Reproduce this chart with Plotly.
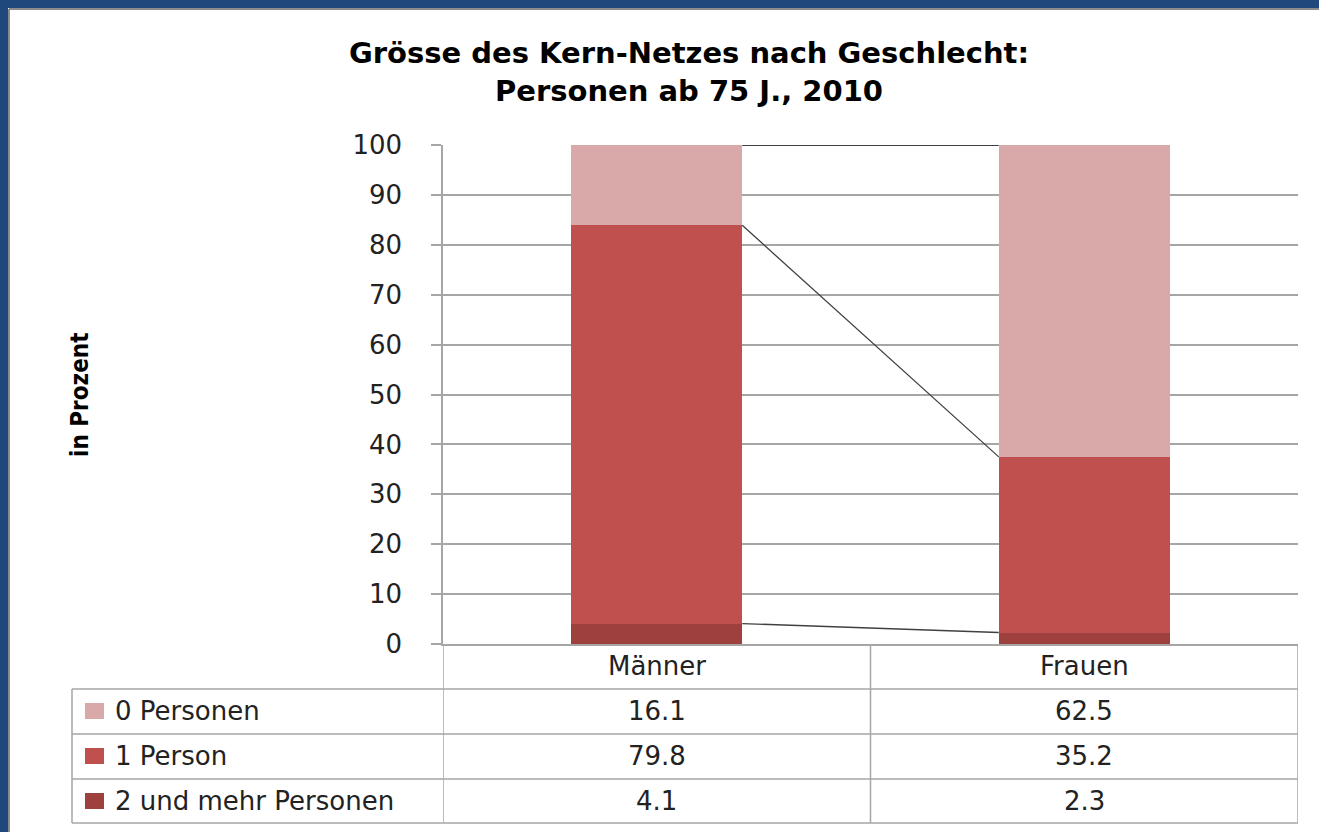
import plotly.graph_objects as go

# ---- data ----
categories = ["Männer", "Frauen"]
series_names = ["0 Personen", "1 Person", "2 und mehr Personen"]
vals_0 = [16.1, 62.5]
vals_1 = [79.8, 35.2]
vals_2 = [4.1, 2.3]
y_ticks = [0, 10, 20, 30, 40, 50, 60, 70, 80, 90, 100]

title_lines = ["Grösse des Kern-Netzes nach Geschlecht:", "Personen ab 75 J., 2010"]
y_title = "in Prozent"

colors = {"0 Personen": "#D9A9A9", "1 Person": "#C0504D", "2 und mehr Personen": "#9E413E"}

# ---- geometry (pixels) ----
W, H = 1319, 832
L, R, T, B = 443, 1298, 145, 644
BAR_W = 0.4
GRID = "#A6A6A6"
BLUE = "#1F497D"
FONT = "DejaVu Sans"
TXT = 26


def px(x):
    return (x - L) / (R - L)


def py(y):
    return (B - y) / (B - T)


xs = list(range(len(categories)))
series_vals = {"0 Personen": vals_0, "1 Person": vals_1, "2 und mehr Personen": vals_2}
stack_order = ["2 und mehr Personen", "1 Person", "0 Personen"]

fig = go.Figure()
for name in stack_order:
    fig.add_trace(go.Bar(
        x=xs, y=series_vals[name], name=name, width=BAR_W,
        marker=dict(color=colors[name], line=dict(width=0)),
        showlegend=False, hoverinfo="skip",
    ))

# series lines connecting tops of each stacked segment
cum = [0.0] * len(categories)
for name in stack_order:
    cum = [c + v for c, v in zip(cum, series_vals[name])]
    fig.add_trace(go.Scatter(
        x=[xs[0] + BAR_W / 2, xs[1] - BAR_W / 2], y=[cum[0], cum[1]],
        mode="lines", line=dict(color="#000000" if name == "0 Personen" else "#404040", width=1.3),
        showlegend=False, hoverinfo="skip",
    ))

shapes = []
# frame
shapes.append(dict(type="rect", xref="paper", yref="paper", x0=px(0), x1=px(W + 5), y0=py(0), y1=py(8),
                   fillcolor=BLUE, line=dict(width=0), layer="above"))
shapes.append(dict(type="rect", xref="paper", yref="paper", x0=px(0), x1=px(8), y0=py(0), y1=py(H + 5),
                   fillcolor=BLUE, line=dict(width=0), layer="above"))
shapes.append(dict(type="line", xref="paper", yref="paper", x0=px(9), x1=px(W + 5), y0=py(9), y1=py(9),
                   line=dict(color="#8C8C8C", width=2)))
shapes.append(dict(type="line", xref="paper", yref="paper", x0=px(9), x1=px(9), y0=py(9), y1=py(H + 5),
                   line=dict(color="#8C8C8C", width=2)))

# table
row_y = [644, 689, 734, 779, 823]
TL = 72
for yy in row_y[1:]:
    shapes.append(dict(type="line", xref="paper", yref="paper", x0=px(TL), x1=px(R), y0=py(yy), y1=py(yy),
                       line=dict(color=GRID, width=1.5)))
shapes.append(dict(type="line", xref="paper", yref="paper", x0=px(TL), x1=px(TL), y0=py(689), y1=py(823),
                   line=dict(color=GRID, width=1.5)))
for xv in [-0.5, 0.5, 1.5]:
    shapes.append(dict(type="line", xref="x", yref="paper", x0=xv, x1=xv, y0=py(644), y1=py(823),
                       line=dict(color=GRID, width=1.5)))

annotations = []
# title
annotations.append(dict(text="<b>" + title_lines[0] + "</b><br><b>" + title_lines[1] + "</b>",
                        xref="paper", yref="paper", x=px(689), y=py(72), xanchor="center", yanchor="middle",
                        showarrow=False, font=dict(family=FONT, size=29, color="#000000"), align="center"))
# y title
annotations.append(dict(text="<b>" + y_title + "</b>", xref="paper", yref="paper", x=px(80), y=py(395),
                        textangle=-90, showarrow=False, xanchor="center", yanchor="middle",
                        font=dict(family="DejaVu Sans Condensed", size=24, color="#000000")))
# header (categories)
for xv, cat in zip(xs, categories):
    annotations.append(dict(text=cat, xref="x", yref="paper", x=xv, y=py(666), showarrow=False,
                            xanchor="center", yanchor="middle", font=dict(family=FONT, size=TXT, color="#222222")))
# rows
row_centers = [711, 756, 801]
for rc, name in zip(row_centers, series_names):
    shapes.append(dict(type="rect", xref="paper", yref="paper", x0=px(85), x1=px(104),
                       y0=py(rc - 8), y1=py(rc + 8), fillcolor=colors[name], line=dict(width=0)))
    annotations.append(dict(text=name, xref="paper", yref="paper", x=px(113), y=py(rc), showarrow=False,
                            xanchor="left", yanchor="middle", font=dict(family=FONT, size=TXT, color="#222222")))
    for xv, v in zip(xs, series_vals[name]):
        annotations.append(dict(text=f"{v:.1f}", xref="x", yref="paper", x=xv, y=py(rc), showarrow=False,
                                xanchor="center", yanchor="middle",
                                font=dict(family=FONT, size=TXT, color="#222222")))

fig.update_layout(
    width=W, height=H,
    margin=dict(l=L, r=W - R, t=T, b=H - B, pad=0),
    paper_bgcolor="#FFFFFF", plot_bgcolor="#FFFFFF",
    barmode="stack", bargap=0,
    shapes=shapes, annotations=annotations,
    xaxis=dict(range=[-0.5, 1.5], showticklabels=False, showgrid=False, zeroline=False,
               showline=True, linecolor=GRID, linewidth=1.5, ticks="", fixedrange=True),
    yaxis=dict(range=[0, 100], tickvals=y_ticks, showgrid=True, gridcolor=GRID, gridwidth=1.5,
               zeroline=False, showline=True, linecolor=GRID, linewidth=1.5,
               ticks="outside", ticklen=10, tickcolor=GRID, tickwidth=1.5, ticklabelstandoff=24,
               tickfont=dict(family=FONT, size=TXT, color="#222222"), fixedrange=True),
)

fig.write_html("out.html", config={"displayModeBar": False},
               post_script="document.body.style.margin='0';document.body.style.padding='0';"
                           "document.body.style.overflow='hidden';")
